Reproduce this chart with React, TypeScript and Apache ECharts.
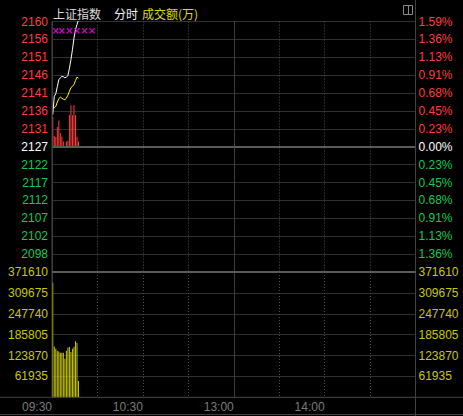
import React, { useEffect, useRef } from 'react';
import * as echarts from 'echarts';

// Previous close and the price distance between two horizontal grid lines
const PREV_CLOSE = 2127.0;
const STEP_POINTS = 4.83;

// Left / right tick texts for grid steps -6 … 7 (step 0 is the previous close)
const priceTicks = ['2098', '2102', '2107', '2112', '2117', '2122', '2127', '2131', '2136', '2141', '2146', '2151', '2156', '2160'];
const pctTicks = ['1.36%', '1.13%', '0.91%', '0.68%', '0.45%', '0.23%', '0.00%', '0.23%', '0.45%', '0.68%', '0.91%', '1.13%', '1.36%', '1.59%'];

// Volume axis (成交额, 万)
const VOLUME_MAX = 371610;
const VOLUME_STEP = 61935;

// Minute axis: 241 minutes, labels at these minute offsets
const timeTickMinutes = [0, 60, 120, 180];
const timeTickLabels = ['09:30', '10:30', '13:00', '14:00'];

// Per-minute data since the open
const lastPrice = [2135.7, 2140.6, 2141.3, 2143.2, 2145.1, 2145.6, 2146.0, 2145.9, 2145.6, 2145.8, 2146.2, 2148.2, 2150.5, 2153.2, 2156.3, 2158.6, 2160.0, 2161.3];
const avgPrice = [2137.9, 2137.55, 2137.9, 2139.05, 2140.0, 2140.4, 2140.1, 2139.85, 2139.7, 2140.1, 2140.9, 2142.0, 2142.95, 2143.3, 2143.8, 2144.85, 2145.8, 2145.5];
const leadBars = [8.0, 2.9, 2.6, 5.3, 7.1, 3.7, 2.8, 1.4, -0.3, 1.4, 1.6, 8.6, 11.2, 8.5, 11.3, 8.5, 2.8, 1.4];
const volume = [340000, 151000, 144000, 138000, 136000, 132000, 132000, 132000, 114000, 138000, 148000, 149000, 134000, 144000, 150000, 166000, 161000, 48600];

// Signal marks near the top of the price panel
const markMinutes = [2, 6, 11, 16, 21, 26];
const MARK_PRICE = 2158.3;

const RED = '#ff3c3c';
const GREEN = '#12c850';
const WHITE = '#ffffff';
const YELLOW = '#c8c800';
const GRID = '#303030';
const FRAME = '#404040';
const NUM_FONT = "'Liberation Sans', Arial, sans-serif";
const NUM_SIZE = 12;
const CJK_FONT = "'Noto Sans CJK SC', sans-serif";

const toStep = (p: number) => (p - PREV_CLOSE) / STEP_POINTS;
const ptsToStep = (d: number) => d / STEP_POINTS;

const numRich = {
  up: { color: RED, fontFamily: NUM_FONT, fontSize: NUM_SIZE },
  flat: { color: WHITE, fontFamily: NUM_FONT, fontSize: NUM_SIZE },
  down: { color: GREEN, fontFamily: NUM_FONT, fontSize: NUM_SIZE },
};

const stepLabel = (list: string[]) => (v: number) => {
  const s = Math.round(v);
  const t = list[s + 6];
  if (t === undefined) return '';
  const k = s > 0 ? 'up' : s < 0 ? 'down' : 'flat';
  return `{${k}|${t}}`;
};

function buildOption() {
  const left = 52;
  const right = 415.5;
  const width = right - left;
  const priceTop = 21.5;
  const priceH = 250.5;
  const volTop = priceTop + priceH;
  const volH = 125.3;
  const volBottom = volTop + volH;

  const xBase = (gridIndex: number) => ({
    type: 'value', gridIndex, min: 0, max: 240,
    axisLine: { show: false }, axisTick: { show: false }, axisLabel: { show: false },
  });

  const frameLine = (x1: number, y1: number, x2: number, y2: number, w = 1, c = FRAME) => ({
    type: 'line', silent: true, z: 50,
    shape: { x1, y1, x2, y2 },
    style: { stroke: c, lineWidth: w },
  });

  return {
    animation: false,
    backgroundColor: '#000000',
    grid: [
      { left, top: priceTop, width, height: priceH },
      { left, top: volTop, width, height: volH },
    ],
    xAxis: [
      { ...xBase(0), interval: 30, splitLine: { show: true, lineStyle: { color: '#4c4c4c', type: [1, 2] } } },
      {
        ...xBase(1), interval: 30,
        splitLine: { show: true, lineStyle: { color: '#4c4c4c', type: [1, 2] } },
        axisLabel: {
          show: true, align: 'right', margin: 4, color: '#7a7a7a', fontSize: 12,
          fontFamily: NUM_FONT,
          formatter: (v: number) => {
            const i = timeTickMinutes.indexOf(Math.round(v));
            return i < 0 ? '' : timeTickLabels[i];
          },
        },
      },
      { ...xBase(0), interval: 120, splitLine: { show: true, lineStyle: { color: '#3c3c3c' } } },
      { ...xBase(1), interval: 120, splitLine: { show: true, lineStyle: { color: '#3c3c3c' } } },
    ],
    yAxis: [
      {
        type: 'value', gridIndex: 0, position: 'left', min: -7, max: 7, interval: 1,
        axisLine: { show: false }, axisTick: { show: false },
        splitLine: { show: true, lineStyle: { color: GRID } },
        axisLabel: { margin: 4, formatter: stepLabel(priceTicks), rich: numRich },
      },
      {
        type: 'value', gridIndex: 0, position: 'right', min: -7, max: 7, interval: 1,
        axisLine: { show: false }, axisTick: { show: false }, splitLine: { show: false },
        axisLabel: { margin: 3, formatter: stepLabel(pctTicks), rich: numRich },
      },
      {
        type: 'value', gridIndex: 1, position: 'left', min: 0, max: VOLUME_MAX, interval: VOLUME_STEP,
        axisLine: { show: false }, axisTick: { show: false },
        splitLine: { show: true, lineStyle: { color: GRID } },
        axisLabel: {
          margin: 4, color: YELLOW, fontFamily: NUM_FONT, fontSize: NUM_SIZE,
          formatter: (v: number) => (v === 0 ? '' : String(v)),
        },
      },
      {
        type: 'value', gridIndex: 1, position: 'right', min: 0, max: VOLUME_MAX, interval: VOLUME_STEP,
        axisLine: { show: false }, axisTick: { show: false }, splitLine: { show: false },
        axisLabel: {
          margin: 3, color: YELLOW, fontFamily: NUM_FONT, fontSize: NUM_SIZE,
          formatter: (v: number) => (v === 0 ? '' : String(v)),
        },
      },
    ],
    series: [
      {
        type: 'bar', name: 'lead', xAxisIndex: 0, yAxisIndex: 0, barWidth: 1, z: 3,
        data: leadBars.map((d, i) => ({
          value: [i + 0.5, ptsToStep(d)],
          itemStyle: { color: d >= 0 ? RED : GREEN },
        })),
      },
      {
        type: 'line', name: 'avg', xAxisIndex: 0, yAxisIndex: 0, symbol: 'none', z: 4,
        lineStyle: { color: '#ffff00', width: 1 },
        data: avgPrice.map((p, i) => [i + 0.5, toStep(p)]),
      },
      {
        type: 'line', name: 'last', xAxisIndex: 0, yAxisIndex: 0, symbol: 'none', z: 5,
        lineStyle: { color: WHITE, width: 1 },
        data: lastPrice.map((p, i) => [i + 0.5, toStep(p)]),
        markLine: {
          silent: true, symbol: 'none', label: { show: false },
          lineStyle: { color: '#5a5a5a', width: 2, type: 'solid' },
          data: [{ yAxis: 0 }],
        },
      },
      {
        type: 'scatter', name: 'marks', xAxisIndex: 0, yAxisIndex: 0, z: 6,
        symbol: 'path://M0,1.5L1.5,0L5,3.5L8.5,0L10,1.5L6.5,5L10,8.5L8.5,10L5,6.5L1.5,10L0,8.5L3.5,5Z',
        symbolSize: 6,
        itemStyle: { color: '#ff00ff' },
        data: markMinutes.map((m) => [m + 0.5, toStep(MARK_PRICE)]),
      },
      {
        type: 'bar', name: 'volume', xAxisIndex: 1, yAxisIndex: 2, barWidth: 1,
        itemStyle: { color: YELLOW },
        data: volume.map((v, i) => [i + 0.5, v]),
      },
    ],
    graphic: [
      frameLine(left, priceTop, left, volBottom),
      frameLine(right, 0, right, 416),
      frameLine(0, volBottom, 463, volBottom),
      frameLine(0, 414.5, 463, 414.5),
      frameLine(left, volTop, right, volTop, 2, '#5a5a5a'),
      {
        type: 'text', x: 53, y: 13, silent: true,
        style: { text: '上证指数', fill: '#dcdcdc', font: `12px ${CJK_FONT}`, verticalAlign: 'middle' },
      },
      {
        type: 'text', x: 114, y: 13, silent: true,
        style: { text: '分时', fill: '#f0f0f0', font: `12px ${CJK_FONT}`, verticalAlign: 'middle' },
      },
      {
        type: 'text', x: 142, y: 13, silent: true,
        style: { text: '成交额(万)', fill: '#dcdc00', font: `12px ${CJK_FONT}`, verticalAlign: 'middle' },
      },
      {
        type: 'rect', silent: true,
        shape: { x: 403.5, y: 5.5, width: 9, height: 9 },
        style: { fill: 'none', stroke: '#8a8a8a', lineWidth: 1 },
      },
      frameLine(408.5, 5.5, 408.5, 14.5, 1, '#8a8a8a'),
    ],
  };
}

export default function App() {
  const ref = useRef<HTMLDivElement>(null);
  useEffect(() => {
    if (!ref.current) return;
    const chart = echarts.init(ref.current, null, { renderer: 'svg' });
    chart.setOption(buildOption() as any);
    return () => chart.dispose();
  }, []);
  return (
    <div
      ref={ref}
      style={{ position: 'fixed', left: 0, top: 0, width: 463, height: 416, background: '#000' }}
    />
  );
}
